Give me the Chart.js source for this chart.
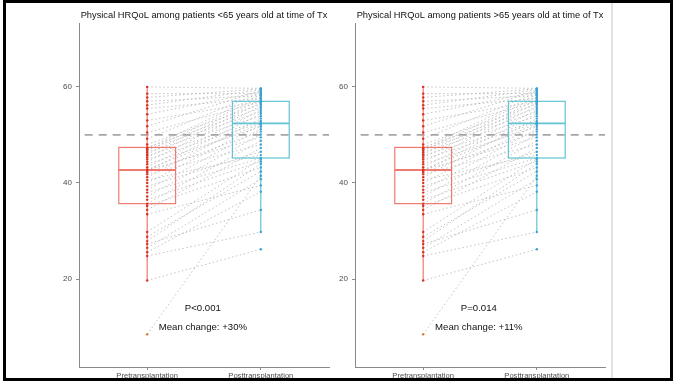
<!DOCTYPE html>
<html>
<head>
<meta charset="utf-8">
<script src="https://cdn.jsdelivr.net/npm/chart.js@4/dist/chart.umd.min.js"></script>
<style>
  html, body { margin: 0; padding: 0; background: #ffffff; }
  #wrap { position: relative; width: 673px; height: 381px; overflow: hidden; background: #fff; }
  canvas { position: absolute; top: 0; }
  #frame { position: absolute; left: 3px; top: 0; width: 670px; height: 381px; box-sizing: border-box; border: 3px solid #000; pointer-events: none; }
  #sep { position: absolute; left: 611px; top: 3px; width: 2px; height: 375px; background: #e2e2e2; }
</style>
</head>
<body>
<div id="wrap">
  <div id="sep"></div>
  <canvas id="c1" width="333" height="381" style="left:0px"></canvas>
  <canvas id="c2" width="276" height="381" style="left:333px"></canvas>
  <div id="frame"></div>
</div>
<script>
// ---------- data ----------
const categories = ['Pretransplantation', 'Posttransplantation'];
const panelTitles = [
  'Physical HRQoL among patients <65 years old at time of Tx',
  'Physical HRQoL among patients >65 years old at time of Tx'
];
const pLabels = ['P<0.001', 'P=0.014'];
const meanChangeLabels = ['Mean change: +30%', 'Mean change: +11%'];

// paired patient values (pre -> post)
const preValues  = [8.5, 19.7, 24.8, 25.6, 26.5, 27.3, 27.9, 28.8, 29.8, 33.5,
                    34.4, 35.2, 35.7, 36.5, 37.2, 38.0, 38.6, 39.3, 40.0, 40.6,
                    41.2, 41.8, 42.2, 42.5, 42.7, 42.8, 43.3, 43.9, 44.4, 44.9,
                    45.3, 45.7, 46.0, 46.4, 46.7, 47.0, 47.2, 47.4, 48.0, 49.2,
                    50.5, 51.8, 53.0, 54.3, 55.5, 56.2, 57.0, 57.8, 58.6, 60.0];
const postValues = [41.5, 26.2, 29.8, 38.2, 40.8, 34.4, 44.0, 42.4, 45.0, 39.5,
                    47.3, 43.2, 48.8, 44.5, 50.1, 45.2, 51.2, 46.5, 52.1, 45.8,
                    53.4, 48.0, 50.7, 54.4, 49.5, 52.3, 55.2, 51.7, 56.0, 52.5,
                    56.7, 52.9, 57.3, 53.9, 57.9, 54.8, 58.4, 55.6, 56.4, 58.8,
                    56.9, 59.2, 57.0, 59.0, 57.6, 59.4, 58.2, 59.6, 58.6, 59.7];
// box statistics [lower whisker, Q1, median, Q3, upper whisker]
const preBox  = [19.7, 35.7, 42.7, 47.4, 60.0];
const postBox = [29.8, 45.2, 52.4, 57.0, 59.7];
const preOutliers = [8.5];
const referenceLine = 50;
const yTicks = [20, 40, 60];
const annotationY = [14, 10];

// ---------- styles ----------
const FONT = '"Liberation Sans", Arial, sans-serif';
const preBoxColor = '#F07A70';
const prePointColor = '#D93326';
const preOutlierColor = '#E86A2A';
const postBoxColor = '#62C4D3';
const postPointColor = '#3AA3D0';
const pairColor = 'rgba(175,175,175,0.75)';
const axisColor = '#8a8a8a';

const boxPlugin = {
  id: 'boxes',
  afterDatasetDraw(chart, args) {
    if (args.index !== 2) return;
    const ctx = chart.ctx, xs = chart.scales.x, ys = chart.scales.y;
    const boxes = [[preBox, preBoxColor], [postBox, postBoxColor]];
    ctx.save();
    boxes.forEach(([b, col], i) => {
      const cx = xs.getPixelForValue(i + 1);
      const hw = xs.getPixelForValue(i + 1.25) - cx;
      const yMin = ys.getPixelForValue(b[0]), yQ1 = ys.getPixelForValue(b[1]);
      const yMed = ys.getPixelForValue(b[2]), yQ3 = ys.getPixelForValue(b[3]);
      const yMax = ys.getPixelForValue(b[4]);
      ctx.strokeStyle = col;
      ctx.lineWidth = 1.2;
      ctx.strokeRect(cx - hw, yQ3, 2 * hw, yQ1 - yQ3);
      ctx.beginPath();
      ctx.moveTo(cx, yQ3); ctx.lineTo(cx, yMax);
      ctx.moveTo(cx, yQ1); ctx.lineTo(cx, yMin);
      ctx.stroke();
      ctx.lineWidth = 1.8;
      ctx.beginPath();
      ctx.moveTo(cx - hw, yMed); ctx.lineTo(cx + hw, yMed);
      ctx.stroke();
    });
    ctx.restore();
  }
};

const textPlugin = {
  id: 'texts',
  afterDraw(chart) {
    const o = chart.options.plugins.texts;
    const ctx = chart.ctx, xs = chart.scales.x, ys = chart.scales.y, ca = chart.chartArea;
    ctx.save();
    ctx.fillStyle = '#111';
    ctx.textAlign = 'center';
    ctx.textBaseline = 'middle';
    ctx.font = '9.3px ' + FONT;
    ctx.fillText(o.title, (ca.left + ca.right) / 2, 15);
    ctx.font = '9.6px ' + FONT;
    const mx = xs.getPixelForValue(1.49);
    ctx.fillText(o.p, mx, ys.getPixelForValue(annotationY[0]));
    ctx.fillText(o.mean, mx, ys.getPixelForValue(annotationY[1]));
    ctx.restore();
  }
};

function makeChart(id, panel, yAxisWidth) {
  const datasets = [];
  datasets.push({
    type: 'scatter',
    data: preValues.map(v => ({ x: 1, y: v })),
    pointRadius: 1.2,
    pointBackgroundColor: preValues.map(v => preOutliers.includes(v) ? preOutlierColor : prePointColor),
    pointBorderWidth: 0
  });
  datasets.push({
    type: 'scatter',
    data: postValues.map(v => ({ x: 2, y: v })),
    pointRadius: 1.2,
    pointBackgroundColor: postPointColor,
    pointBorderWidth: 0
  });
  datasets.push({
    type: 'line',
    data: [{ x: 0.45, y: referenceLine }, { x: 2.6, y: referenceLine }],
    borderColor: '#a6a6a6',
    borderWidth: 1.8,
    borderDash: [8, 6],
    pointRadius: 0
  });
  preValues.forEach((v, i) => {
    datasets.push({
      type: 'line',
      data: [{ x: 1, y: v }, { x: 2, y: postValues[i] }],
      borderColor: pairColor,
      borderWidth: 1,
      borderDash: [1.5, 2.5],
      pointRadius: 0
    });
  });

  return new Chart(document.getElementById(id), {
    type: 'scatter',
    data: { datasets },
    plugins: [boxPlugin, textPlugin],
    options: {
      responsive: false,
      animation: false,
      devicePixelRatio: 1,
      layout: { padding: { top: 23, right: 2, bottom: 0, left: 0 } },
      plugins: {
        legend: { display: false },
        tooltip: { enabled: false },
        texts: { title: panelTitles[panel], p: pLabels[panel], mean: meanChangeLabels[panel] }
      },
      scales: {
        x: {
          type: 'linear',
          min: 0.4, max: 2.6,
          afterBuildTicks: s => { s.ticks = categories.map((c, i) => ({ value: i + 1 })); },
          afterFit: s => { s.height = 14; },
          ticks: {
            callback: (v, i) => categories[i],
            font: { family: FONT, size: 7.6 },
            color: '#4d4d4d',
            padding: 1,
            maxRotation: 0,
            autoSkip: false
          },
          grid: { display: true, drawOnChartArea: false, drawTicks: true, tickLength: 3, color: axisColor },
          border: { display: true, color: axisColor, width: 1 }
        },
        y: {
          type: 'linear',
          min: 1.7, max: 73.3,
          afterBuildTicks: s => { s.ticks = yTicks.map(v => ({ value: v })); },
          afterFit: s => { s.width = yAxisWidth; },
          ticks: {
            font: { family: FONT, size: 8 },
            color: '#4d4d4d',
            padding: 4
          },
          grid: { display: true, drawOnChartArea: false, drawTicks: true, tickLength: 3, color: axisColor },
          border: { display: true, color: axisColor, width: 1 }
        }
      }
    }
  });
}

makeChart('c1', 0, 79);
makeChart('c2', 1, 22);
</script>
</body>
</html>
